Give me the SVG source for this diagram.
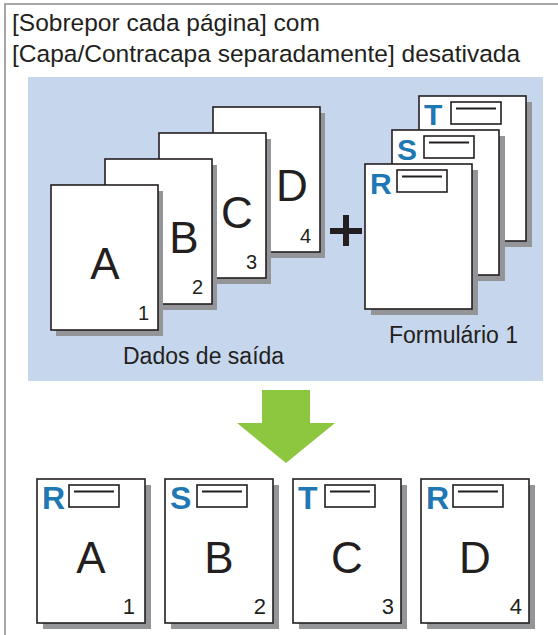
<svg xmlns="http://www.w3.org/2000/svg" width="558" height="635" viewBox="0 0 558 635">
<style>
.sh{fill:#939598}
.pg{fill:#fff;stroke:#231f20;stroke-width:1.6}
.big{font-family:"Liberation Sans",Arial,sans-serif;font-size:44px;fill:#231f20;text-anchor:middle}
.num{font-family:"Liberation Sans",Arial,sans-serif;font-size:20px;fill:#231f20;text-anchor:end}
.numb{font-family:"Liberation Sans",Arial,sans-serif;font-size:22px;fill:#231f20;text-anchor:end}
.bl{font-family:"Liberation Sans",Arial,sans-serif;font-size:30px;font-weight:bold;fill:#1f78b4}
.box{fill:#fff;stroke:#231f20;stroke-width:1.6}
.ln{stroke:#231f20;stroke-width:2}
.lab{font-family:"Liberation Sans",Arial,sans-serif;font-size:23px;fill:#231f20}
.title{font-family:"Liberation Sans",Arial,sans-serif;font-size:24.5px;fill:#231f20}
</style>
<rect width="558" height="635" fill="#fff"/>
<path d="M5,640 V4 H560" fill="none" stroke="#8a8a8a" stroke-width="1.5"/>
<g id="title">
<text class="title" x="12" y="31">[Sobrepor cada página] com</text>
<text class="title" x="12" y="62">[Capa/Contracapa separadamente] desativada</text>
</g>
<rect id="panel" x="28" y="77" width="515" height="304" fill="#c6d6ec"/>

<g id="data-D"><rect class="sh" x="218" y="113" width="107" height="145"/><rect class="pg" x="213" y="107" width="107" height="145"/><text class="big" x="292" y="201">D</text><text class="num" x="311" y="243">4</text></g>
<g id="data-C"><rect class="sh" x="164" y="139" width="107" height="145"/><rect class="pg" x="159" y="133" width="107" height="145"/><text class="big" x="237" y="228">C</text><text class="num" x="257" y="269">3</text></g>
<g id="data-B"><rect class="sh" x="110" y="165" width="107" height="145"/><rect class="pg" x="105" y="159" width="107" height="145"/><text class="big" x="184" y="253">B</text><text class="num" x="203" y="294">2</text></g>
<g id="data-A"><rect class="sh" x="56" y="191" width="107" height="145"/><rect class="pg" x="51" y="185" width="107" height="145"/><text class="big" x="105" y="279">A</text><text class="num" x="149" y="320">1</text></g>
<text id="label-dados" class="lab" x="123" y="364">Dados de saída</text>

<g id="plus"><rect x="343" y="215" width="6" height="31" fill="#231f20"/><rect x="330" y="228" width="32" height="6" fill="#231f20"/></g>

<g id="form-T"><rect class="sh" x="425" y="102" width="107" height="145"/><rect class="pg" x="419" y="96" width="107" height="145"/><text class="bl" x="424" y="125">T</text><rect class="box" x="451" y="102" width="50" height="22"/><line class="ln" x1="456" y1="108.5" x2="496" y2="108.5"/></g>
<g id="form-S"><rect class="sh" x="398" y="136" width="107" height="145"/><rect class="pg" x="392" y="130" width="107" height="145"/><text class="bl" x="397" y="160">S</text><rect class="box" x="424" y="136" width="50" height="22"/><line class="ln" x1="429" y1="142.5" x2="469" y2="142.5"/></g>
<g id="form-R"><rect class="sh" x="371" y="170" width="107" height="145"/><rect class="pg" x="365" y="164" width="107" height="145"/><text class="bl" x="370" y="194">R</text><rect class="box" x="397" y="170" width="50" height="22"/><line class="ln" x1="402" y1="176.5" x2="442" y2="176.5"/></g>
<text id="label-form" class="lab" x="389" y="343">Formulário 1</text>

<g id="connectors">
<polygon id="arrow" points="262,390 310,390 310,423 335,423 286,463 237,423 262,423" fill="#8dc63f"/>
</g>

<g id="out-1"><rect class="sh" x="43" y="485" width="108" height="144"/><rect class="pg" x="37" y="479" width="108" height="144"/><text class="bl" x="42" y="509" style="font-size:32px">R</text><rect class="box" x="69" y="485" width="50" height="22"/><line class="ln" x1="74" y1="491.5" x2="114" y2="491.5"/><text class="big" x="91" y="573">A</text><text class="numb" x="135" y="614">1</text></g>
<g id="out-2"><rect class="sh" x="171" y="485" width="108" height="144"/><rect class="pg" x="165" y="479" width="108" height="144"/><text class="bl" x="170" y="509" style="font-size:32px">S</text><rect class="box" x="197" y="485" width="50" height="22"/><line class="ln" x1="202" y1="491.5" x2="242" y2="491.5"/><text class="big" x="219" y="573">B</text><text class="numb" x="266" y="614">2</text></g>
<g id="out-3"><rect class="sh" x="299" y="485" width="108" height="144"/><rect class="pg" x="293" y="479" width="108" height="144"/><text class="bl" x="298" y="509" style="font-size:32px">T</text><rect class="box" x="325" y="485" width="50" height="22"/><line class="ln" x1="330" y1="491.5" x2="370" y2="491.5"/><text class="big" x="347" y="573">C</text><text class="numb" x="394" y="614">3</text></g>
<g id="out-4"><rect class="sh" x="427" y="485" width="108" height="144"/><rect class="pg" x="421" y="479" width="108" height="144"/><text class="bl" x="426" y="509" style="font-size:32px">R</text><rect class="box" x="453" y="485" width="50" height="22"/><line class="ln" x1="458" y1="491.5" x2="498" y2="491.5"/><text class="big" x="475" y="573">D</text><text class="numb" x="522" y="614">4</text></g>
</svg>
